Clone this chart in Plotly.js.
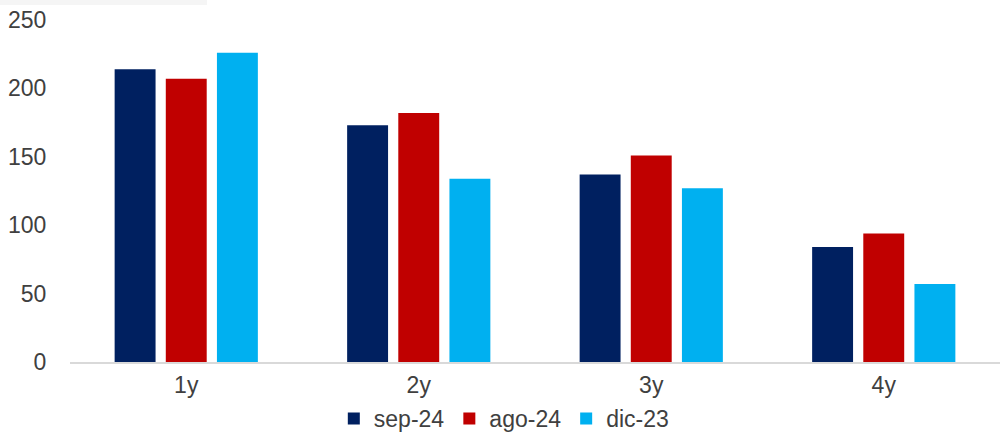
<!DOCTYPE html>
<html><head><meta charset="utf-8">
<script src="https://cdn.plot.ly/plotly-3.0.1.min.js"></script>
<style>html,body{margin:0;padding:0;background:#fff}#c{width:1000px;height:440px}</style>
</head><body><div id="c"></div>
<script>
const categories = ["1y", "2y", "3y", "4y"];
const seriesNames = ["sep-24", "ago-24", "dic-23"];
const sep24 = [214, 173, 137, 84];
const ago24 = [207, 182, 151, 94];
const dic23 = [226, 134, 127, 57];
const colors = ["#002060", "#C00000", "#00B0F0"];
const yTicks = [0, 50, 100, 150, 200, 250];

const values = [sep24, ago24, dic23];
const traces = values.map((v, i) => ({
  type: "bar", name: seriesNames[i], x: categories, y: v,
  marker: {color: colors[i]}, hoverinfo: "skip"
}));

const fnt = {family: "Liberation Sans, Arial, sans-serif", size: 23, color: "#404040"};
const layout = {
  width: 1000, height: 440,
  margin: {l: 70, r: 0, t: 20, b: 78},
  paper_bgcolor: "#fff", plot_bgcolor: "#fff",
  font: fnt,
  barmode: "group", bargap: 0.34, bargroupgap: 0.2,
  xaxis: {showgrid: false, showline: true, linecolor: "#d9d9d9", linewidth: 1.5,
          ticks: "outside", ticklen: 2, tickcolor: "rgba(0,0,0,0)", zeroline: false,
          tickfont: fnt, automargin: false},
  yaxis: {range: [0, 250], tickvals: yTicks, showgrid: false, zeroline: false,
          showline: false, ticks: "outside", ticklen: 18, tickcolor: "rgba(0,0,0,0)",
          tickfont: fnt, automargin: false},
  showlegend: true,
  legend: {orientation: "h", x: 0.467, xanchor: "center", y: -0.165, yanchor: "middle",
           font: fnt, traceorder: "normal", itemwidth: 30, bgcolor: "rgba(0,0,0,0)"},
  shapes: [{type: "rect", xref: "paper", yref: "paper", x0: -70/930, x1: 137/930,
            y0: 1 + 15/342, y1: 1 + 20/342, fillcolor: "#f5f5f5", line: {width: 0}}]
};
Plotly.newPlot("c", traces, layout, {displayModeBar: false, staticPlot: true});
</script></body></html>
